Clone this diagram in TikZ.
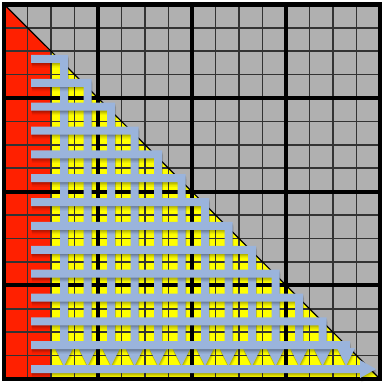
\documentclass[tikz,border=0pt]{standalone}
\definecolor{grayfill}{RGB}{176,176,176}
\definecolor{redfill}{RGB}{255,32,0}
\definecolor{yellowfill}{RGB}{255,255,0}
\definecolor{barblue}{RGB}{154,180,220}
\tikzset{
  gridfine/.style={draw=black!80, line width=1.2pt},
  gridthick/.style={draw=black, line width=3pt},
  shA/.style={preaction={fill=black,fill opacity=0.10,transform canvas={shift={(0.2pt,-0.8pt)}}}},
  shB/.style={preaction={fill=black,fill opacity=0.09,transform canvas={shift={(0.4pt,-1.6pt)}}}},
  shC/.style={preaction={fill=black,fill opacity=0.08,transform canvas={shift={(0.6pt,-2.4pt)}}}},
  shD/.style={preaction={fill=black,fill opacity=0.06,transform canvas={shift={(0.8pt,-3.4pt)}}}},
  bar/.style={fill=barblue, shA, shB, shC, shD},
}
\begin{document}
\begin{tikzpicture}[x=0.75pt,y=-0.75pt]
\useasboundingbox (0,0) rectangle (381,384);
\fill[white] (0,0) rectangle (381,384);
% regions
\fill[grayfill] (4,4.3) rectangle (380,379);
\fill[redfill] (4,4.3) -- (51,51.14) -- (51,379) -- (4,379) -- cycle;
\fill[yellowfill] (51,51.14) -- (380,379) -- (51,379) -- cycle;
% fine grid
\foreach \gx in {27.5,51,74.5,121.5,145,168.5,215.5,239,262.5,309.5,333,356.5}{
  \draw[gridfine] (\gx,4.3) -- (\gx,379);
}
\foreach \gy in {27.72,51.14,74.56,121.4,144.82,168.24,215.08,238.5,261.92,308.76,332.18,355.6}{
  \draw[gridfine] (4,\gy) -- (380,\gy);
}
% diagonal
\draw[black, line width=0.9pt] (4,4.3) -- (380,379);
% thick grid
\foreach \gx in {98,192,286}{
  \draw[gridthick] (\gx,4.3) -- (\gx,379);
}
\foreach \gy in {97.98,191.66,285.34}{
  \draw[gridthick] (4,\gy) -- (380,\gy);
}
% border
\draw[black, line width=3.4pt] (4,4.3) rectangle (380,379);
% blue L-shaped arrows
\foreach \k in {1,...,13}{
  \pgfmathsetmacro\xk{64+(\k-1)*23.5}
  \pgfmathsetmacro\yk{59+(\k-1)*23.85}
  \fill[bar] (31,\yk-4) -- (\xk+4,\yk-4) -- (\xk+4,348) -- (\xk+9,348)
    -- (\xk,366) -- (\xk-9,348) -- (\xk-4,348) -- (\xk-4,\yk+4)
    -- (31,\yk+4) -- cycle;
}
\pgfmathsetmacro\yl{59+13*23.85}
\fill[bar] (31,\yl-4) -- (360,\yl-4) -- (360,\yl-9) -- (376,\yl)
  -- (360,\yl+9) -- (360,\yl+4) -- (31,\yl+4) -- cycle;
\end{tikzpicture}
\end{document}
